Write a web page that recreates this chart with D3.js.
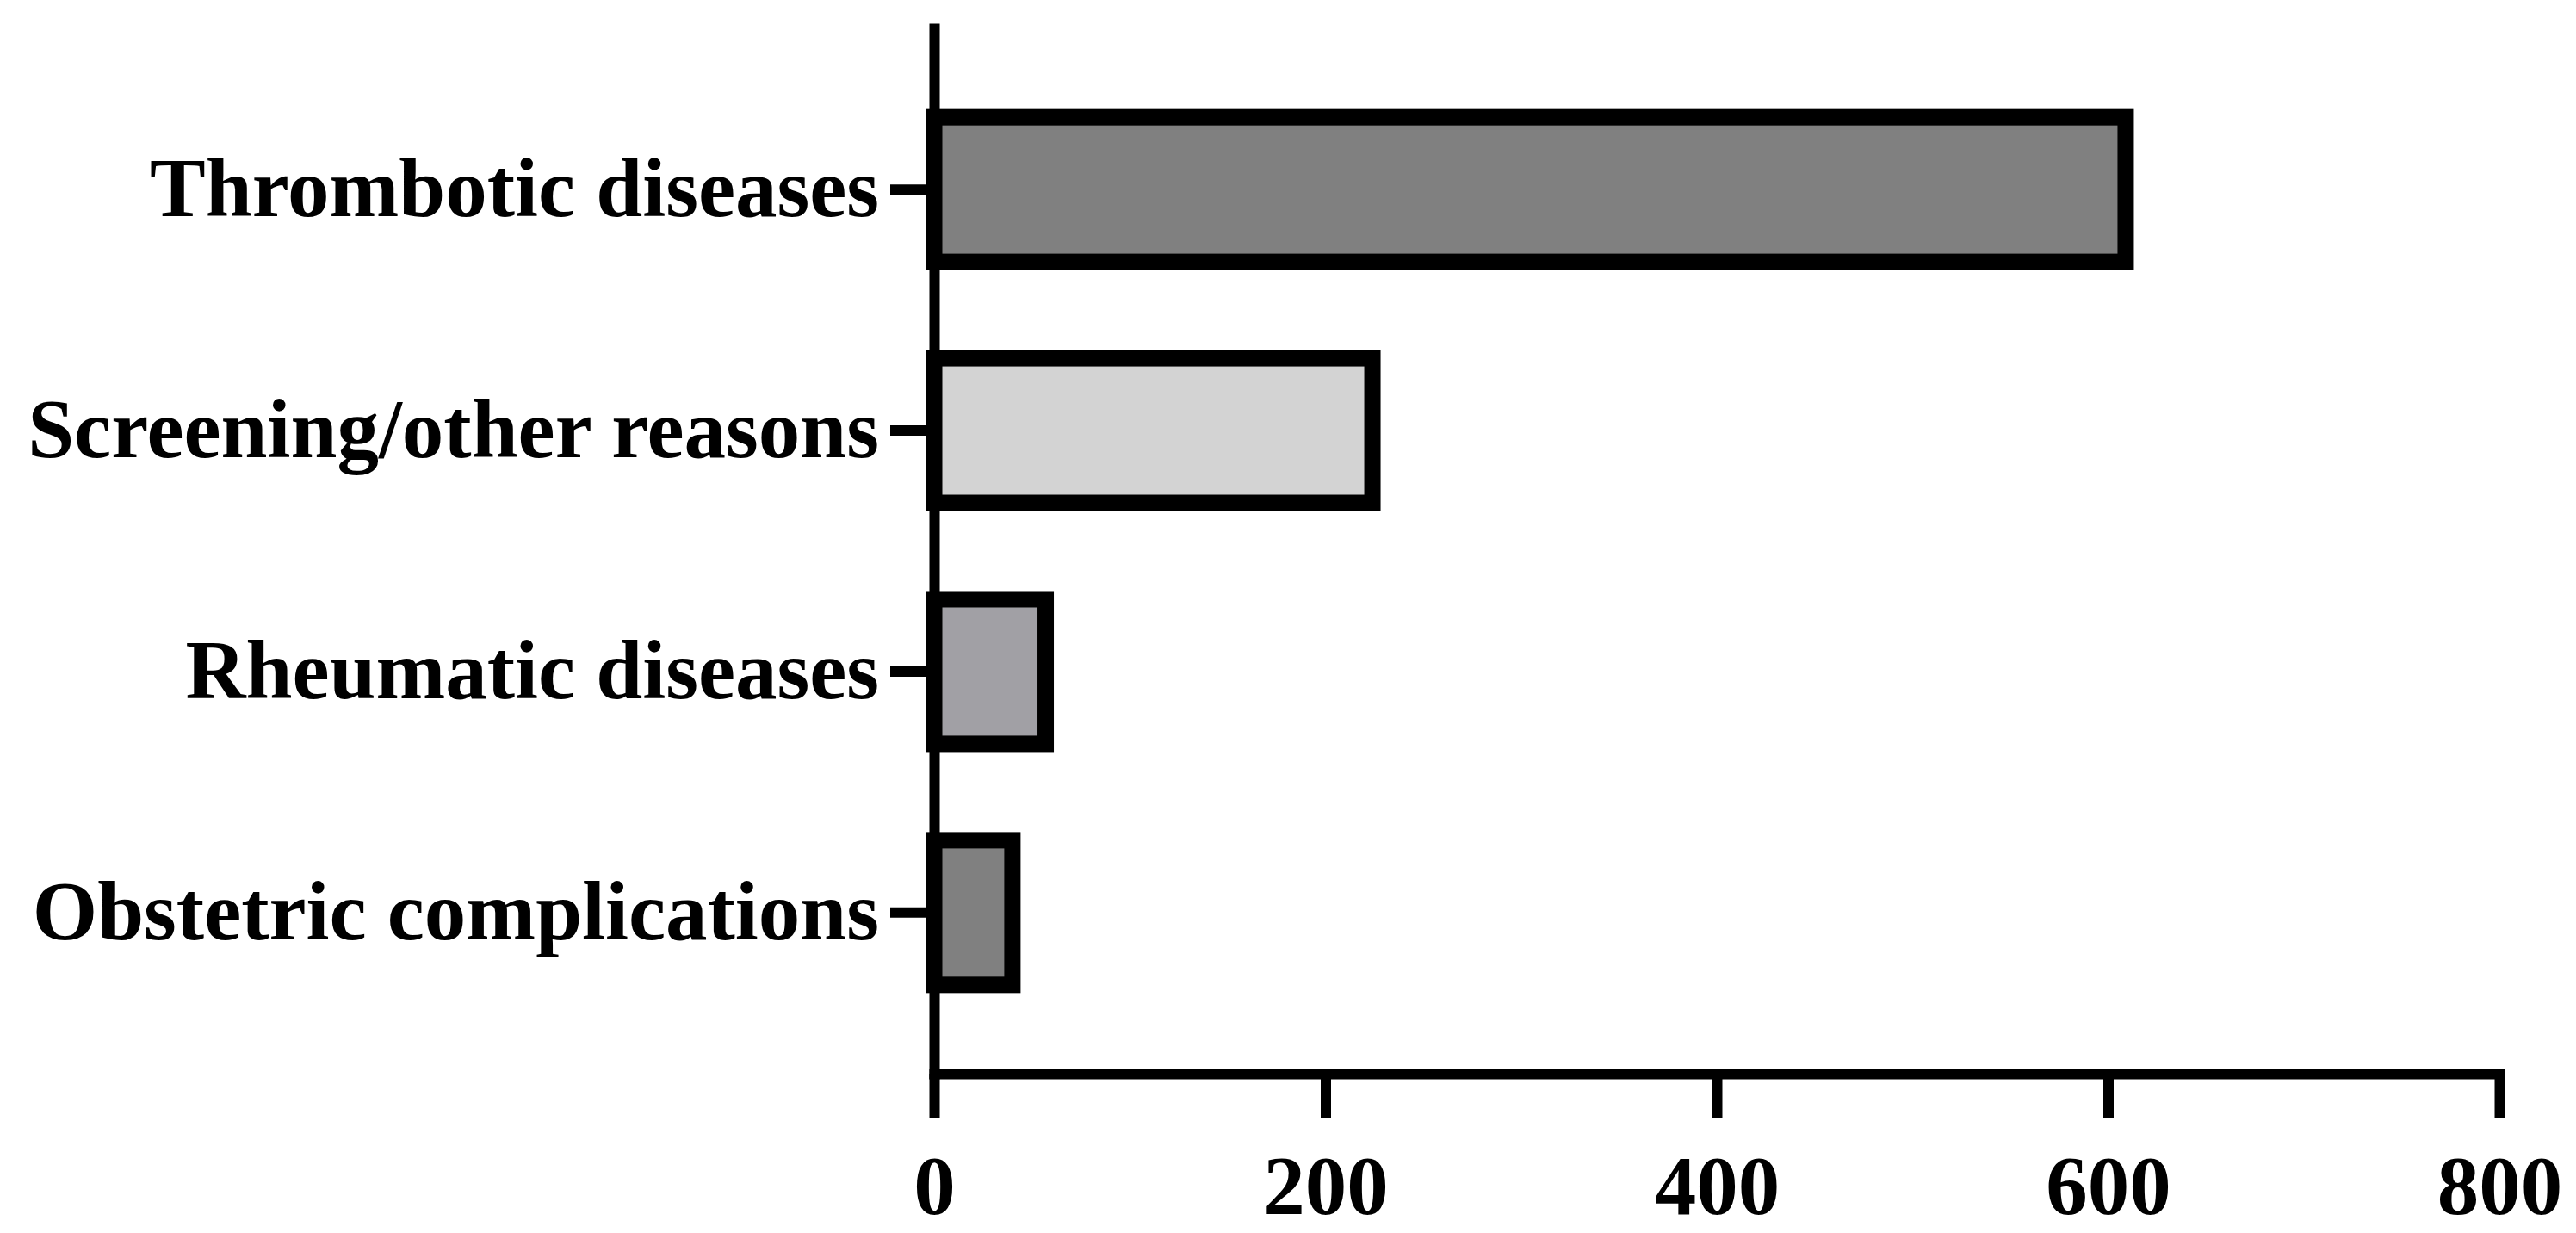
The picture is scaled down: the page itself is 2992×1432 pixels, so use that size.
<!DOCTYPE html>
<html>
<head>
<meta charset="utf-8">
<script src="https://cdn.jsdelivr.net/npm/d3@7"></script>
<style>
  body { margin: 0; background: #fff; }
</style>
</head>
<body>
<script>
const categories = ["Thrombotic diseases", "Screening/other reasons", "Rheumatic diseases", "Obstetric complications"];
const counts = [609, 224, 57, 40];
const fills = ["#808080", "#d3d3d3", "#a1a0a5", "#808080"];
const xTicks = [0, 200, 400, 600, 800];

const width = 2992;
const height = 1432;
const font = "'Liberation Serif', 'Times New Roman', serif";

const data = categories.map((c, i) => ({name: c, value: counts[i], fill: fills[i]}));

const x = d3.scaleLinear().domain([0, 800]).range([1085, 2903]);
const y = d3.scaleBand()
  .domain(categories)
  .range([27, 1253])
  .paddingInner(0.4)
  .paddingOuter(0.39);

const svg = d3.create("svg")
  .attr("width", width)
  .attr("height", height)
  .attr("viewBox", [0, 0, width, height]);

svg.append("rect").attr("width", width).attr("height", height).attr("fill", "#fff");

// bars
svg.append("g")
  .selectAll("rect")
  .data(data)
  .join("rect")
  .attr("x", x(0))
  .attr("y", d => y(d.name))
  .attr("width", d => x(d.value) - x(0))
  .attr("height", y.bandwidth())
  .attr("fill", d => d.fill)
  .attr("stroke", "#000")
  .attr("stroke-width", 19);

// y axis
const yAxis = svg.append("g")
  .attr("transform", `translate(${x(0)},0)`)
  .call(d3.axisLeft(y).tickSize(51).tickSizeOuter(0).tickPadding(13));
yAxis.select(".domain").attr("stroke-width", 12);
yAxis.selectAll(".tick line").attr("stroke-width", 12);
yAxis.selectAll("text")
  .attr("font-family", font)
  .attr("font-weight", "bold")
  .attr("font-size", 97)
  .attr("fill", "#000");

// x axis
const xAxis = svg.append("g")
  .attr("transform", `translate(0,1247)`)
  .call(d3.axisBottom(x).tickValues(xTicks).tickSize(52).tickSizeOuter(0).tickPadding(42));
xAxis.select(".domain").attr("stroke-width", 12).attr("stroke-linecap", "square");
xAxis.selectAll(".tick line").attr("stroke-width", 12);
xAxis.selectAll("text")
  .attr("font-family", font)
  .attr("font-weight", "bold")
  .attr("font-size", 97)
  .attr("fill", "#000");

document.body.append(svg.node());
</script>
</body>
</html>
